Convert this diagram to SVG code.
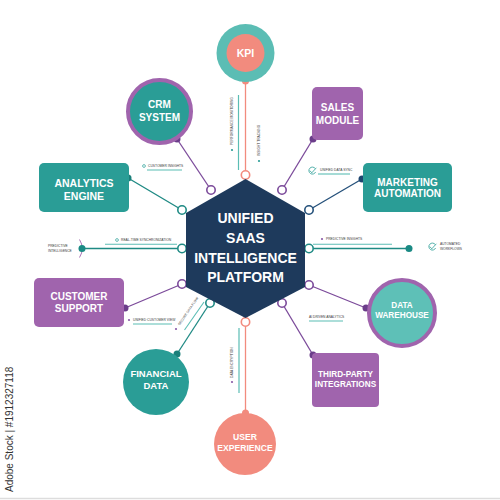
<svg xmlns="http://www.w3.org/2000/svg" width="500" height="500" viewBox="0 0 500 500">
<style>
.t{font-family:"Liberation Sans",Arial,sans-serif;font-weight:700;fill:#fff;text-anchor:middle;dominant-baseline:central}
.s{font-family:"Liberation Sans",Arial,sans-serif;font-size:3.3px;fill:#3a3a3a;dominant-baseline:central}
.ln{fill:none;stroke-width:1.3}
.oc{fill:#fff;stroke-width:1.6}
.ul{stroke:#5bbdb4;stroke-width:1.1;fill:none}
</style>
<rect width="500" height="500" fill="#fff"/>
<line x1="0" y1="498.5" x2="500" y2="498.5" stroke="#ddd" stroke-width="1.5"/>
<text transform="translate(13,492) rotate(-90)" font-family="Liberation Sans,Arial,sans-serif" font-size="10" fill="#333">Adobe Stock | #1912327118</text>

<g id="connectors">
  <!-- KPI -->
  <line class="ln" x1="245.5" y1="81" x2="245.5" y2="175" stroke="#f28b7e"/>
  <circle cx="245.5" cy="81" r="3.5" fill="#f28b7e"/>
  <circle class="oc" cx="245.5" cy="175" r="4.2" stroke="#f28b7e"/>
  <line x1="238.5" y1="95" x2="238.5" y2="170" stroke="#5bbdb4" stroke-width="1.2"/>
  <!-- CRM -->
  <line class="ln" x1="177" y1="139" x2="211" y2="190" stroke="#7b4a9a"/>
  <circle cx="177" cy="139" r="3.5" fill="#6b3d8a"/>
  <circle class="oc" cx="211" cy="190" r="4.2" stroke="#7b4a9a"/>
  <!-- Sales -->
  <line class="ln" x1="313" y1="139" x2="282" y2="190" stroke="#7b4a9a"/>
  <circle cx="313" cy="139" r="3.5" fill="#6b3d8a"/>
  <circle class="oc" cx="282" cy="190" r="4.2" stroke="#7b4a9a"/>
  <!-- Analytics -->
  <line class="ln" x1="128" y1="178" x2="182" y2="210" stroke="#1f8a84"/>
  <circle cx="128" cy="178" r="3.5" fill="#1a7f7a"/>
  <circle class="oc" cx="182" cy="210" r="4.2" stroke="#1f8a84"/>
  <!-- Marketing -->
  <line class="ln" x1="362" y1="179" x2="309" y2="210" stroke="#24507a"/>
  <circle cx="362" cy="179" r="3.5" fill="#1f4670"/>
  <circle class="oc" cx="309" cy="210" r="4.2" stroke="#24507a"/>
  <!-- Left horizontal -->
  <path d="M79.5,239.5 Q85,248.5 79.5,257.5" fill="none" stroke="#a064ad" stroke-width="0.9"/>
  <line class="ln" x1="82" y1="248.5" x2="182" y2="248.5" stroke="#1f8a84"/>
  <circle cx="82" cy="248.5" r="3.5" fill="#1a8a84"/>
  <circle class="oc" cx="182" cy="248.5" r="4.2" stroke="#1f8a84"/>
  <line class="ul" x1="105" y1="244.2" x2="177" y2="244.2"/>
  <!-- Right horizontal -->
  <line class="ln" x1="309" y1="248.5" x2="409" y2="248.5" stroke="#1f8a84"/>
  <circle cx="409" cy="248.5" r="3.5" fill="#1a8a84"/>
  <circle class="oc" cx="309" cy="248.5" r="4.2" stroke="#1f8a84"/>
  <line class="ul" x1="313" y1="244.2" x2="392" y2="244.2"/>
  <!-- Customer support -->
  <line class="ln" x1="125" y1="308" x2="182" y2="284" stroke="#7b4a9a"/>
  <circle cx="125" cy="308" r="3.5" fill="#6b3d8a"/>
  <circle class="oc" cx="182" cy="284" r="4.2" stroke="#7b4a9a"/>
  <!-- Data warehouse -->
  <line class="ln" x1="366" y1="308" x2="309" y2="285" stroke="#7b4a9a"/>
  <circle cx="366" cy="308" r="3.5" fill="#6b3d8a"/>
  <circle class="oc" cx="309" cy="285" r="4.2" stroke="#7b4a9a"/>
  <!-- Financial -->
  <line class="ln" x1="177" y1="354" x2="210" y2="303" stroke="#1f8a84"/>
  <circle cx="177" cy="354" r="3.5" fill="#1a7f7a"/>
  <circle class="oc" cx="210" cy="303" r="4.2" stroke="#1f8a84"/>
  <line class="ul" x1="184.5" y1="330" x2="204" y2="302"/>
  <!-- Third party -->
  <line class="ln" x1="313" y1="355" x2="282" y2="303" stroke="#7b4a9a"/>
  <circle cx="313" cy="355" r="3.5" fill="#6b3d8a"/>
  <circle class="oc" cx="282" cy="303" r="4.2" stroke="#7b4a9a"/>
  <!-- UX -->
  <line class="ln" x1="245.5" y1="322" x2="245.5" y2="413" stroke="#f28b7e"/>
  <circle cx="245.5" cy="413" r="3.5" fill="#f28b7e"/>
  <circle class="oc" cx="245.5" cy="322" r="4.2" stroke="#f28b7e"/>
  <line x1="239" y1="328" x2="239" y2="393" stroke="#5bbdb4" stroke-width="1.2"/>
</g>

<g id="labels">
  <circle cx="144" cy="166" r="1.4" fill="none" stroke="#2a9d96" stroke-width="0.7"/>
  <text class="s" x="148" y="166">CUSTOMER INSIGHTS</text>
  <line class="ul" x1="147" y1="170" x2="182" y2="170"/>
  <g fill="none" stroke="#2a9d96" stroke-width="0.8">
    <path d="M315.2,168.5 A3.5,3.5 0 1 0 315.6,172"/>
    <path d="M309.8,170.6 L311.8,172.8 L316.3,167.8"/>
  </g>
  <text class="s" x="320" y="170">UNIFIED DATA SYNC</text>
  <line class="ul" x1="318" y1="174" x2="350" y2="174"/>
  <circle cx="117" cy="240" r="1.4" fill="none" stroke="#2a9d96" stroke-width="0.7"/>
  <text class="s" x="121" y="240">REAL-TIME SYNCHRONIZATION</text>
  <text class="s" x="48" y="246">PREDICTIVE</text>
  <text class="s" x="48" y="250.5">INTELLIGENCE</text>
  <circle cx="322" cy="239" r="1.1" fill="#8a5aa8"/>
  <text class="s" x="326" y="239">PREDICTIVE INSIGHTS</text>
  <g fill="none" stroke="#2a9d96" stroke-width="0.8">
    <path d="M435.2,244.5 A3.5,3.5 0 1 0 435.6,248"/>
    <path d="M429.8,246.6 L431.8,248.8 L436.3,243.8"/>
  </g>
  <text class="s" x="440" y="243.5">AUTOMATED</text>
  <text class="s" x="440" y="248.5">WORKFLOWS</text>
  <circle cx="129" cy="320" r="1.1" fill="#8a5aa8"/>
  <text class="s" x="133" y="320">UNIFIED CUSTOMER VIEW</text>
  <line class="ul" x1="133" y1="324" x2="172" y2="324"/>
  <circle cx="176" cy="329" r="1.1" fill="#8a5aa8"/>
  <text class="s" transform="translate(179,325) rotate(-56)">SECURE DATA FLOW</text>
  <text class="s" x="309" y="317">AI DRIVEN ANALYTICS</text>
  <line class="ul" x1="309" y1="321" x2="343" y2="321"/>
  <circle cx="232" cy="150" r="1.1" fill="#2a9d96"/>
  <text class="s" transform="translate(232,145) rotate(-90)">PERFORMANCE MONITORING</text>
  <circle cx="259" cy="161" r="1.1" fill="#2a9d96"/>
  <text class="s" transform="translate(259,156) rotate(-90)">INSIGHT TRACKING</text>
  <circle cx="232" cy="382" r="1.1" fill="#8a5aa8"/>
  <text class="s" transform="translate(232,378) rotate(-90)">DATA ENCRYPTION</text>
</g>

<g id="hub">
  <polygon points="245.5,179 305,213 305,287 245.5,318 186,287 186,213" fill="#1e3a5c"/>
  <text class="t" font-size="14" x="245.5" y="218">UNIFIED</text>
  <text class="t" font-size="14" x="245.5" y="238">SAAS</text>
  <text class="t" font-size="14" x="245.5" y="257.5">INTELLIGENCE</text>
  <text class="t" font-size="14" x="245.5" y="276.5">PLATFORM</text>
</g>

<g id="kpi">
  <circle cx="245.5" cy="53" r="29" fill="#5bbdb4"/>
  <circle cx="245.5" cy="53" r="19" fill="#f28b7e"/>
  <text class="t" font-size="10.5" x="245.5" y="53">KPI</text>
</g>
<g id="crm">
  <circle cx="159.5" cy="111.5" r="31.5" fill="#2a9d96" stroke="#a064ad" stroke-width="4"/>
  <text class="t" font-size="10" x="159.5" y="104">CRM</text>
  <text class="t" font-size="10" x="159.5" y="117">SYSTEM</text>
</g>
<g id="sales">
  <rect x="312" y="87" width="51" height="53" rx="5" fill="#a064ad"/>
  <text class="t" font-size="10" x="337.5" y="107">SALES</text>
  <text class="t" font-size="10" x="337.5" y="120">MODULE</text>
</g>
<g id="analytics">
  <rect x="39" y="163" width="90" height="49" rx="5" fill="#2a9d96"/>
  <text class="t" font-size="10.5" x="84" y="183">ANALYTICS</text>
  <text class="t" font-size="10.5" x="84" y="195.5">ENGINE</text>
</g>
<g id="marketing">
  <rect x="363" y="163" width="89" height="49" rx="5" fill="#2a9d96"/>
  <text class="t" font-size="10" x="407.5" y="182">MARKETING</text>
  <text class="t" font-size="10" x="407.5" y="193.5">AUTOMATION</text>
</g>
<g id="support">
  <rect x="34" y="278" width="90" height="49" rx="5" fill="#a064ad"/>
  <text class="t" font-size="10" x="79" y="296">CUSTOMER</text>
  <text class="t" font-size="10" x="79" y="308.5">SUPPORT</text>
</g>
<g id="warehouse">
  <circle cx="402" cy="313" r="33" fill="#5ec0b7" stroke="#a064ad" stroke-width="4"/>
  <text class="t" font-size="8.2" x="402" y="305">DATA</text>
  <text class="t" font-size="8.2" x="402" y="315.5">WAREHOUSE</text>
</g>
<g id="financial">
  <circle cx="156" cy="382" r="33" fill="#2a9d96"/>
  <text class="t" font-size="9.5" x="156" y="373">FINANCIAL</text>
  <text class="t" font-size="9.5" x="156" y="385">DATA</text>
</g>
<g id="thirdparty">
  <rect x="312" y="353" width="67" height="54" rx="4" fill="#a064ad"/>
  <text class="t" font-size="8.2" x="345.5" y="374">THIRD-PARTY</text>
  <text class="t" font-size="8.2" x="345.5" y="384.5">INTEGRATIONS</text>
</g>
<g id="ux">
  <circle cx="245" cy="444" r="31" fill="#f28b7e"/>
  <text class="t" font-size="8.6" x="245" y="437">USER</text>
  <text class="t" font-size="8.6" x="245" y="448">EXPERIENCE</text>
</g>
</svg>
